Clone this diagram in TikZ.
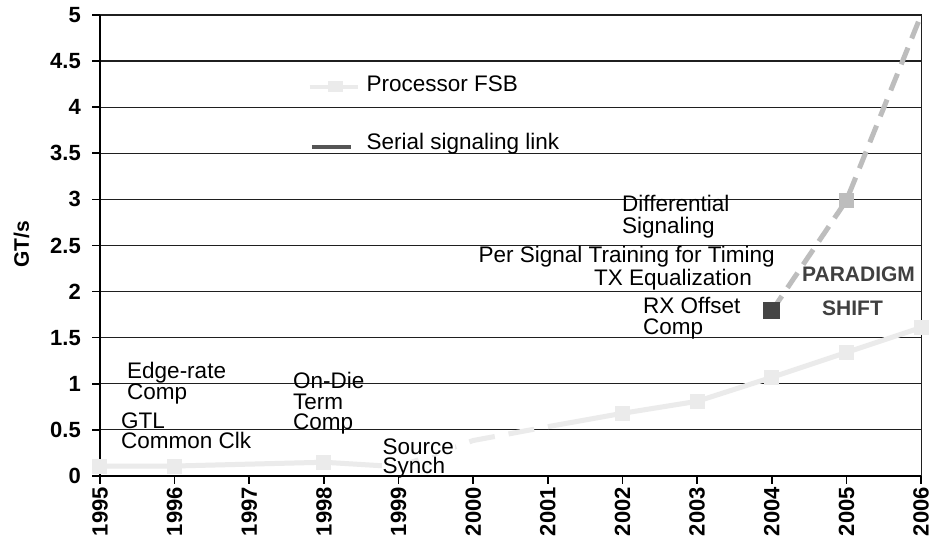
\documentclass[tikz,border=0pt]{standalone}
\usepackage{fontspec}
\setmainfont{Liberation Sans}
\usepackage{tikz}

\definecolor{fsbgray}{HTML}{EBEBEB}
\definecolor{linkgray}{HTML}{BDBDBD}
\definecolor{sqdark}{HTML}{454545}
\definecolor{keygray}{HTML}{555555}
\definecolor{shiftgray}{HTML}{404040}

\begin{document}
\begin{tikzpicture}[x=74.65pt,y=92.2pt,
    gridline/.style={line width=1.2pt,color=black!88},
    axisline/.style={line width=1.6pt,color=black},
    fsbline/.style={line width=5pt,color=fsbgray},
    linkline/.style={line width=5pt,color=linkgray,dash pattern=on 18pt off 10pt},
    fsbsq/.style={rectangle,fill=fsbgray,minimum size=15pt,inner sep=0pt},
    note/.style={anchor=base west,inner sep=0pt,font=\fontsize{22.5}{26}\selectfont},
    shiftnote/.style={anchor=base west,inner sep=0pt,text=shiftgray,font=\fontsize{21}{25}\selectfont\bfseries},
    ylab/.style={anchor=east,inner sep=0pt,font=\fontsize{22}{26}\selectfont\bfseries},
    xlab/.style={anchor=east,rotate=90,inner sep=0pt,font=\fontsize{22}{26}\selectfont\bfseries}]
    \useasboundingbox (-1.3396,-0.7592) rectangle (11.1323,5.1627);
    \fill[white] (-1.3396,-0.7592) rectangle (11.1323,5.1627);

    % Grid and frame
    \foreach \v in {0.5,1,...,4.5}
        \draw[gridline] (0,\v) -- (11,\v);
    \draw[gridline] (0,5) -- (11,5) -- (11,0);
    \draw[axisline] (0,5) -- (0,0) -- (11,0);

    % Ticks
    \foreach \v in {0,0.5,...,5}
        \draw[axisline] (-0.107,\v) -- (0,\v);
    \foreach \i in {0,...,11}
        \draw[axisline] (\i,0) -- (\i,-0.087);

    % Axis labels
    \foreach \v [count=\i] in {0,0.5,1,1.5,2,2.5,3,3.5,4,4.5,5}
        \node[ylab] (ylab\i) at (-0.2545,\v) {\v};
    \foreach \yr [count=\i from 0] in {1995,...,2006}
        \node[xlab] (x\yr) at (\i,-0.119) {\yr};
    \node[rotate=90,font=\fontsize{21}{25}\selectfont\bfseries] (gts) at (-1.052,2.516) {GT/s};

    % Processor FSB
    \coordinate (p95) at (0,0.108);
    \coordinate (p96) at (1,0.108);
    \coordinate (p98) at (3,0.149);
    \coordinate (p99) at (4,0.10);
    \coordinate (p00) at (5,0.385);
    \coordinate (p01) at (6,0.535);
    \coordinate (p02) at (7,0.68);
    \coordinate (p03) at (8,0.81);
    \coordinate (p04) at (9,1.07);
    \coordinate (p05) at (10,1.34);
    \coordinate (p06) at (11,1.61);
    \draw[fsbline] (p95) -- (p96) -- (p98) -- (p99);
    \draw[fsbline,dash pattern=on 26pt off 14pt,dash phase=26pt] (p01) -- (p00) -- (p99);
    \draw[fsbline] (p01) -- (p02) -- (p03) -- (p04) -- (p05) -- (p06);
    \foreach \p in {p95,p96,p98,p02,p03,p04,p05,p06}
        \node[fsbsq] at (\p) {};

    % Serial signaling link
    \coordinate (s04) at (9,1.79);
    \coordinate (s05) at (10,2.99);
    \coordinate (s06) at (11,5.0);
    \draw[linkline] (s04) -- (s05) -- (s06);
    \node[rectangle,fill=sqdark,minimum size=17pt,inner sep=0pt] (sq04) at (s04) {};
    \node[rectangle,fill=linkgray,minimum size=15pt,inner sep=0pt] (sq05) at (s05) {};

    % Legend
    \coordinate (fsbA) at (2.813,4.222);
    \coordinate (fsbB) at (3.456,4.222);
    \draw[fsbline,line width=4pt] (fsbA) -- (fsbB);
    \node[fsbsq,minimum width=15pt,minimum height=11pt] (fsbkey) at (3.155,4.222) {};
    \node[note] (fsbtext) at (3.57,4.168) {Processor FSB};
    \coordinate (linkA) at (2.84,3.568);
    \coordinate (linkB) at (3.362,3.568);
    \draw[line width=4pt,color=keygray] (linkA) -- (linkB);
    \node[note] (linktext) at (3.57,3.536) {Serial signaling link};

    % Labels
    \node[note] (edge1) at (0.362,1.060) {Edge-rate};
    \node[note] (edge2) at (0.362,0.835) {Comp};
    \node[note] (gtl1) at (0.28,0.517) {GTL};
    \node[note] (gtl2) at (0.28,0.293) {Common Clk};
    \node[note] (odt1) at (2.585,0.944) {On-Die};
    \node[note] (odt2) at (2.585,0.723) {Term};
    \node[note] (odt3) at (2.585,0.499) {Comp};
    \node[note,fill=white,inner sep=0.5pt,text depth=0pt] (src1) at (3.778,0.235) {Source};
    \node[note,fill=white,inner sep=0.5pt,text depth=0pt,text height=12pt] (src2) at (3.778,0.022) {Synch};
    \node[note] (diff1) at (6.993,2.867) {Differential};
    \node[note] (diff2) at (6.993,2.632) {Signaling};
    \node[note] (train) at (5.070,2.313) {Per Signal Training for Timing};
    \node[note] (txeq) at (6.618,2.061) {TX Equalization};
    \node[note] (rx1) at (7.274,1.757) {RX Offset};
    \node[note] (rx2) at (7.274,1.540) {Comp};
    \node[shiftnote] (shift1) at (9.404,2.107) {PARADIGM};
    \node[shiftnote] (shift2) at (9.672,1.746) {SHIFT};

    % Bottom axis over the text boxes
    \draw[axisline] (0,0) -- (11,0);
\end{tikzpicture}
\end{document}
